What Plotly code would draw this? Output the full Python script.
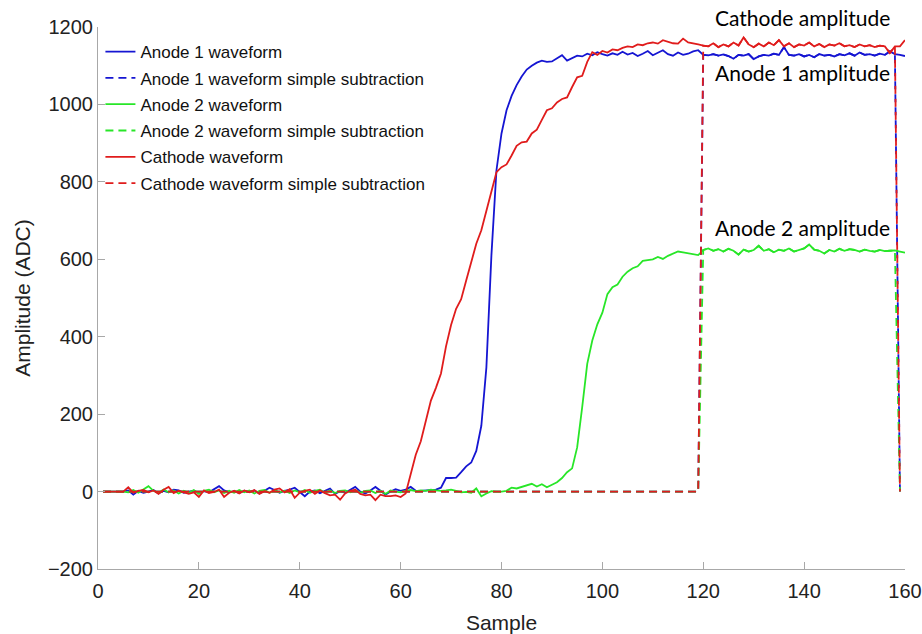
import plotly.graph_objects as go

# Sample index of each waveform point
samples = list(range(1, 161))

# Anode 1 waveform (ADC)
anode1 = [
    0, 0, 0, 0, 0, 3, -8, 2, -3, 0,
    4, -5, 2, -2, 5, 3, -3, 0, 2, -4,
    1, -2, 5, 14, 3, -2, 1, -4, 2, -1,
    3, -5, 2, 10, 4, -3, 2, 5, 10, -2,
    -12, 0, 3, -4, 2, 8, -6, 1, -3, 4,
    12, 0, -5, 3, 12, 2, -8, 0, 6, 2,
    5, 12, 2, 2, 3, 5, 5, 10, 35, 35,
    36, 50, 65, 75, 105, 170, 320, 610, 830, 925,
    985, 1022, 1050, 1072, 1090, 1100, 1108, 1113, 1110, 1111,
    1119, 1127, 1113, 1120, 1126, 1124, 1131, 1127, 1135, 1130,
    1126, 1132, 1128, 1136, 1129, 1133, 1125, 1131, 1138, 1127,
    1133, 1140, 1130, 1126, 1134, 1128, 1131, 1137, 1140, 1128,
    1127, 1130, 1126, 1129, 1125, 1118, 1128, 1126, 1130, 1117,
    1124, 1128, 1126, 1131, 1128, 1148, 1128, 1126, 1130, 1124,
    1128, 1122, 1130, 1126, 1128, 1124, 1130, 1127, 1132, 1126,
    1134, 1128, 1130, 1126, 1131, 1128, 1137, 1130, 1128, 1125,
]

# Anode 2 waveform (ADC)
anode2 = [
    0, 0, 0, 0, 0, -2, 4, -3, 6, 14,
    2, -3, 5, -2, 3, -5, 2, -3, 4, -6,
    2, 5, -2, 3, -4, 2, -3, 4, -2, 3,
    -5, 2, 4, -3, 3, -2, 2, -4, 3, -2,
    4, -3, 2, 5, -3, 3, -4, 2, 3, -2,
    4, -3, 2, 3, -4, 2, -6, 3, 0, -2,
    2, 4, 1, 3, 2, 5, 3, 2, 3, 5,
    2, -2, -1, -3, 8, -12, -5, 1, 0, 0,
    2, 10, 8, 12, 14, 20, 13, 19, 11, 18,
    24, 35, 50, 60, 114, 218, 330, 390, 432, 462,
    510, 528, 535, 555, 568, 577, 582, 596, 598, 600,
    606, 601, 609, 614, 620, 618, 616, 613, 611, 624,
    628, 622, 626, 620, 627, 622, 612, 625, 620, 624,
    635, 622, 626, 618, 625, 622, 628, 620, 625, 628,
    638, 625, 622, 615, 624, 620, 627, 622, 626, 624,
    620, 625, 622, 620, 624, 621, 622, 623, 620, 617,
]

# Cathode waveform (ADC)
cathode = [
    0, 0, 0, 0, 0, 11, -3, 2, 4, -2,
    3, -6, 5, 12, -4, 2, -3, -6, -2, -14,
    3, -4, -1, 5, -14, -3, 2, -5, 3, -2,
    4, -6, 1, -3, 5, 8, -2, 6, -16, -3,
    2, 5, -6, 3, -4, -10, -8, -21, -5, 2,
    5, -6, -10, -8, -22, -8, -12, -12, -10, -14,
    -5, 45, 95, 130, 185, 235, 268, 305, 375, 430,
    472, 497, 545, 595, 640, 675, 725, 778, 825, 838,
    845, 868, 893, 902, 904, 925, 935, 960, 985, 990,
    1005, 1014, 1018, 1045, 1070, 1074, 1110, 1135, 1128, 1138,
    1134, 1142, 1140, 1146, 1150, 1148, 1155, 1153, 1158, 1160,
    1157, 1166, 1161, 1158, 1157, 1170, 1160, 1158, 1155, 1152,
    1150, 1158, 1148, 1155, 1150, 1160, 1152, 1173, 1155, 1148,
    1157, 1150, 1160, 1153, 1166, 1150, 1158, 1148, 1155, 1152,
    1160, 1150, 1156, 1148, 1155, 1152, 1158, 1150, 1153, 1148,
    1155, 1150, 1153, 1148, 1152, 1150, 1133, 1150, 1150, 1166,
]

# Window (in samples) kept by the simple subtraction; zero elsewhere
win_start, win_end = 120, 158
sub_samples = list(range(1, 160))


def simple_subtraction(wave):
    return [wave[s - 1] if win_start <= s <= win_end else 0 for s in sub_samples]


anode1_sub = simple_subtraction(anode1)
anode2_sub = simple_subtraction(anode2)
cathode_sub = simple_subtraction(cathode)

BLUE = "#1515d2"
GREEN = "#28e628"
RED = "#e01c1c"
DASH = "8px,5px"

fig = go.Figure()
series = [
    ("Anode 1 waveform", samples, anode1, BLUE, "solid"),
    ("Anode 1 waveform simple subtraction", sub_samples, anode1_sub, BLUE, DASH),
    ("Anode 2 waveform", samples, anode2, GREEN, "solid"),
    ("Anode 2 waveform simple subtraction", sub_samples, anode2_sub, GREEN, DASH),
    ("Cathode waveform", samples, cathode, RED, "solid"),
    ("Cathode waveform simple subtraction", sub_samples, cathode_sub, RED, DASH),
]
for i, (name, xs, ys, color, dash) in enumerate(series):
    fig.add_trace(go.Scatter(
        x=xs, y=ys, mode="lines", name=name, legendgroup=f"g{i}",
        line=dict(color=color, width=1.8, dash=dash),
    ))

ann_font = dict(family="Lato, Open Sans, sans-serif", size=21, color="black")
fig.add_annotation(x=139.6, xref="x", y=1.017, yref="paper", text="Cathode amplitude",
                   showarrow=False, font=ann_font, xanchor="center", yanchor="middle")
for text, y in [("Anode 1 amplitude", 1082), ("Anode 2 amplitude", 682)]:
    fig.add_annotation(x=139.6, y=y, text=text, showarrow=False,
                       font=ann_font, xanchor="center", yanchor="middle")

axis_common = dict(
    showgrid=False, zeroline=False, showline=True, linecolor="#a8a8a8", linewidth=1,
    ticks="inside", ticklen=7, tickcolor="#a8a8a8", tickwidth=1,
    tickfont=dict(family="Liberation Sans Narrow, Liberation Sans, Arial, sans-serif", size=20, color="#222222"),
    mirror=False, automargin=False,
)

fig.update_layout(
    width=922, height=634,
    margin=dict(l=98, r=17, t=27, b=65),
    paper_bgcolor="white", plot_bgcolor="white",
    font=dict(family="Liberation Sans, Arial, sans-serif", color="#222222"),
    xaxis=dict(range=[0, 160], dtick=20, tick0=0, ticklabelstandoff=4,
               title=dict(text="Sample", font=dict(size=21), standoff=14),
               **axis_common),
    yaxis=dict(range=[-200, 1200], dtick=200, tick0=0,
               title=dict(text="Amplitude (ADC)", font=dict(size=21), standoff=11),
               **axis_common),
    legend=dict(x=0.003, y=0.987, xanchor="left", yanchor="top",
                bgcolor="rgba(0,0,0,0)", borderwidth=0,
                font=dict(size=17, color="#111111"), tracegroupgap=1.2),
    showlegend=True,
)

fig.write_html("out.html")
